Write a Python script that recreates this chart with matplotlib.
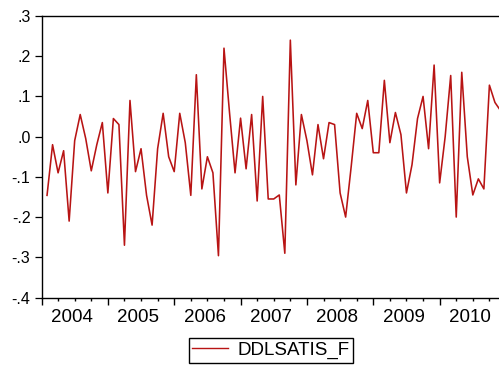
import numpy as np
import pandas as pd
import matplotlib
matplotlib.use("Agg")
import matplotlib.pyplot as plt
from matplotlib.lines import Line2D
import matplotlib.transforms as mtransforms

plt.rcParams['font.family'] = ['Liberation Sans', 'DejaVu Sans']

# monthly observations, 2004M02 .. 2010M12
start = '2004-02'
end = '2010-12'
ddlsatis_f = [
    -0.146, -0.020, -0.090, -0.035, -0.210, -0.010, 0.055, -0.005, -0.085, -0.020, 0.035,
    -0.140, 0.045, 0.030, -0.270, 0.090, -0.087, -0.030, -0.146, -0.220, -0.030, 0.058, -0.050,
    -0.087, 0.058, -0.015, -0.146, 0.154, -0.130, -0.050, -0.090, -0.296, 0.220, 0.060, -0.090,
    0.046, -0.080, 0.055, -0.160, 0.100, -0.155, -0.155, -0.145, -0.290, 0.240, -0.120, 0.055,
    -0.010, -0.095, 0.030, -0.055, 0.035, 0.030, -0.140, -0.200, -0.075, 0.058, 0.020, 0.090,
    -0.040, -0.040, 0.140, -0.015, 0.060, 0.005, -0.140, -0.070, 0.045, 0.100, -0.030, 0.178,
    -0.115, 0.000, 0.152, -0.200, 0.160, -0.050, -0.145, -0.105, -0.130, 0.128, 0.085, 0.065,
]
years = [2004, 2005, 2006, 2007, 2008, 2009, 2010]
ytick_vals = [-0.4, -0.3, -0.2, -0.1, 0.0, 0.1, 0.2, 0.3]
ytick_labels = ['-.4', '-.3', '-.2', '-.1', '.0', '.1', '.2', '.3']
series_name = 'DDLSATIS_F'

periods = pd.period_range(start, end, freq='M')
x = (periods.year - years[0]) * 12 + (periods.month - 1)

fig = plt.figure(figsize=(4.99, 3.65), dpi=100)
ax = fig.add_axes([41.5 / 499, 67.5 / 365, 464.5 / 499, 281.5 / 365])

line_color = '#b81414'
ax.plot(x, ddlsatis_f, color=line_color, lw=1.15)

ax.set_xlim(0, 84)
ax.set_ylim(-0.4, 0.3)

ax.set_yticks(ytick_vals)
ax.set_yticklabels(ytick_labels, fontsize=11.5)
ax.tick_params(axis='y', direction='out', length=5, width=0.9, pad=3)

ax.set_xticks(np.arange(0, 85, 12))
ax.set_xticks(np.arange(0, 85, 3), minor=True)
ax.set_xticklabels([])
ax.tick_params(axis='x', which='major', direction='out', length=5, width=1.0)
ax.tick_params(axis='x', which='minor', direction='out', length=2.5, width=1.0)

# year labels centred in each year span
trans = mtransforms.blended_transform_factory(ax.transData, ax.transAxes)
for k, yr in enumerate(years):
    ax.text(12 * k + 5.5, -0.072, str(yr), transform=trans,
            ha='center', va='center', fontsize=13.5)

for side in ['left', 'bottom', 'top', 'right']:
    ax.spines[side].set_linewidth(1.0)
    ax.spines[side].set_color('black')

handle = Line2D([], [], color=line_color, lw=1.0)
fig.legend([handle], [series_name], loc='center',
           bbox_to_anchor=(271 / 499, 1 - 350.5 / 365),
           fontsize=13.5, frameon=True, fancybox=False, edgecolor='black',
           framealpha=1, handlelength=1.9, handletextpad=0.5,
           borderpad=0.2, borderaxespad=0)

fig.savefig('out.png', dpi=100)
